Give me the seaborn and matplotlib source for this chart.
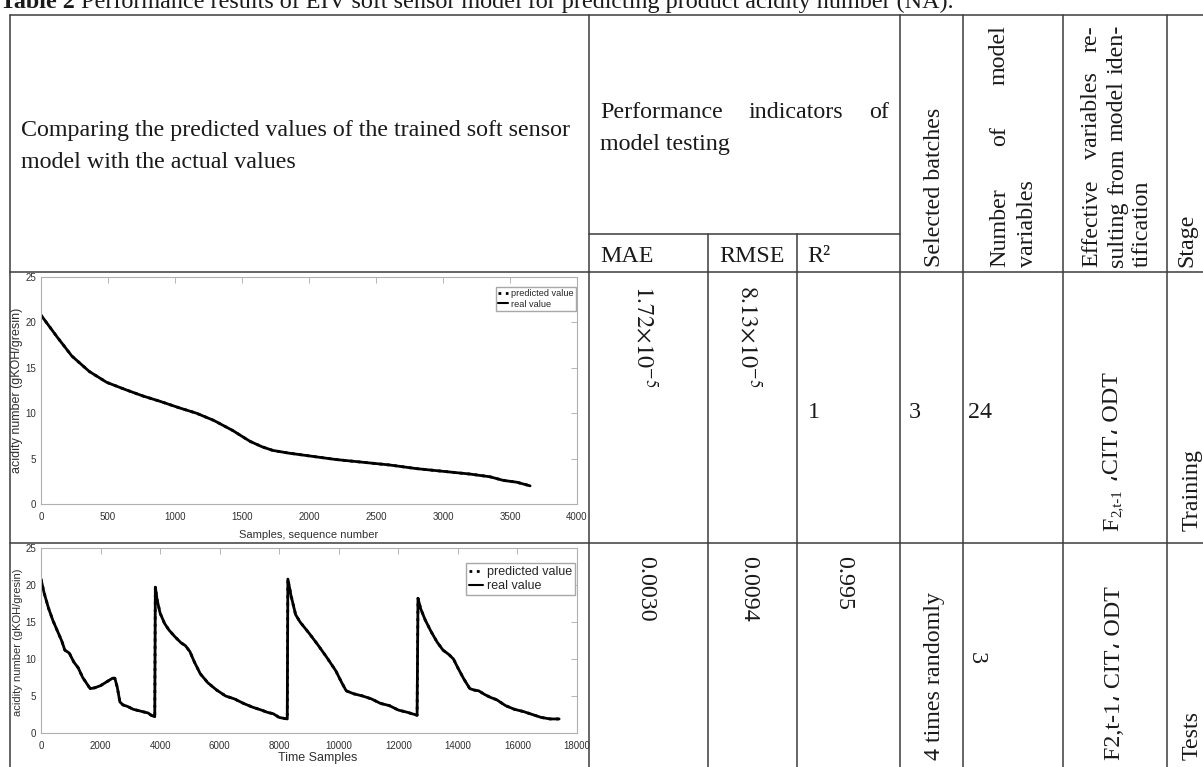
import matplotlib
matplotlib.use("Agg")
import matplotlib.pyplot as plt
from matplotlib.lines import Line2D
import seaborn as sns
import pandas as pd

W, H = 1203, 767

# ---------------- data ----------------
title_bold = "Table 2"
title_rest = " Performance results of EIV soft sensor model for predicting product acidity number (NA)."

train_samples = [0, 120, 230, 360, 490, 630, 760, 890, 1030, 1160, 1290, 1430, 1560,
                 1650, 1730, 1850, 2000, 2200, 2400, 2600, 2800, 3000, 3200, 3350,
                 3450, 3550, 3650]
train_real = [20.8, 18.4, 16.3, 14.6, 13.4, 12.6, 11.9, 11.3, 10.6, 10.0, 9.2, 8.1, 6.9,
              6.3, 5.9, 5.6, 5.3, 4.9, 4.6, 4.3, 3.9, 3.6, 3.3, 3.0, 2.6, 2.4, 2.0]
train_pred = [20.8, 18.4, 16.3, 14.6, 13.4, 12.6, 11.9, 11.3, 10.6, 10.0, 9.2, 8.1, 6.9,
              6.3, 5.9, 5.6, 5.3, 4.9, 4.6, 4.3, 3.9, 3.6, 3.3, 3.0, 2.6, 2.4, 2.0]

test_samples = [0, 100, 250, 400, 550, 700, 800, 950, 1100, 1250, 1400, 1550, 1650, 1800,
                2000, 2200, 2400, 2480, 2560, 2650, 2750, 2900, 3100, 3300, 3500, 3600,
                3700, 3820, 3840, 3900, 4000, 4150, 4300, 4500, 4700, 4850, 5000, 5150,
                5350, 5600, 5900, 6200, 6500, 6800, 7100, 7400, 7600, 7800, 8000, 8270,
                8290, 8400, 8550, 8700, 9000, 9300, 9600, 9900, 10100, 10250, 10500,
                10800, 11100, 11400, 11700, 12000, 12300, 12630, 12660, 12750, 12900,
                13100, 13300, 13500, 13700, 13850, 14000, 14200, 14400, 14550, 14700,
                14900, 15100, 15300, 15600, 15900, 16200, 16500, 16800, 17100, 17400]
test_real = [20.8, 19.0, 16.9, 15.2, 13.8, 12.4, 11.2, 10.8, 9.6, 8.8, 7.5, 6.6, 6.0, 6.1,
             6.4, 6.9, 7.4, 7.4, 6.2, 4.2, 3.8, 3.6, 3.2, 3.0, 2.8, 2.7,
             2.4, 2.2, 19.7, 18.0, 16.2, 14.8, 13.9, 13.0, 12.2, 11.8, 11.0, 9.6,
             8.0, 6.8, 5.8, 5.0, 4.6, 4.0, 3.5, 3.1, 2.8, 2.6, 2.1, 1.9,
             20.8, 18.5, 16.0, 15.0, 13.5, 11.9, 10.2, 8.4, 6.8, 5.7, 5.3,
             5.0, 4.6, 4.0, 3.7, 3.1, 2.8, 2.4, 18.2, 16.8, 15.3,
             13.7, 12.3, 11.2, 10.6, 10.0, 8.8, 7.3, 6.0, 5.8, 5.7,
             5.2, 4.8, 4.5, 3.7, 3.2, 2.9, 2.5, 2.1, 1.9, 1.9]
test_pred = list(test_real)

yticks = [0, 5, 10, 15, 20, 25]
train_xticks = [0, 500, 1000, 1500, 2000, 2500, 3000, 3500, 4000]
test_xticks = [0, 2000, 4000, 6000, 8000, 10000, 12000, 14000, 16000, 18000]

train_metrics = [r"$1.72{\times}10^{-5}$", r"$8.13{\times}10^{-5}$", "1"]
test_metrics = ["0.0030", "0.0094", "0.995"]

# ---------------- setup ----------------
sns.set_theme(style="white")
plt.rcParams['font.family'] = ['Liberation Sans', 'DejaVu Sans']
plt.rcParams['mathtext.fontset'] = 'stix'
SERIF = ['Liberation Serif', 'DejaVu Sans']
SANS = ['Liberation Sans', 'DejaVu Sans']

fig = plt.figure(figsize=(W / 100, H / 100), dpi=100)
fig.patch.set_facecolor('white')
R = fig.canvas.get_renderer()


def P(x, y):
    return (x / W, 1 - y / H)


def measure(s, fs, family=SERIF, weight='normal'):
    t = fig.text(0, 0, s, fontsize=fs, family=family, weight=weight)
    w = t.get_window_extent(R).width
    t.remove()
    return w


# base table font size: "model with the actual values" spans ~275 px
FS = 10 * 275 / measure("model with the actual values", 10)
EM = FS * 100 / 72

LC = '#3c3c3c'
LW = 1.1


def hline(y, x0, x1):
    fig.add_artist(Line2D([x0 / W, x1 / W], [1 - y / H, 1 - y / H], color=LC, lw=LW))


def vline(x, y0, y1):
    fig.add_artist(Line2D([x / W, x / W], [1 - y0 / H, 1 - y1 / H], color=LC, lw=LW))


def put(x, yb, s, fs=None, ha='left', **kw):
    fig.text(*P(x, yb), s, fontsize=fs or FS, family=SERIF, ha=ha, va='baseline',
             color='#1a1a1a', **kw)


def put_up(xc, yb, s, fs=None):
    f = fs or FS
    xb = xc + 0.33 * f * 100 / 72
    t = fig.text(*P(xb, yb), s, fontsize=f, family=SERIF, rotation=90,
                 rotation_mode='anchor', ha='left', va='baseline', color='#1a1a1a')
    return t.get_window_extent(R).height


def put_down(xc, yt, s, fs=None):
    f = fs or FS
    xb = xc - 0.33 * f * 100 / 72
    fig.text(*P(xb, yt), s, fontsize=f, family=SERIF, rotation=-90,
             rotation_mode='anchor', ha='left', va='baseline', color='#1a1a1a')


def justify_h(words, x0, x1, yb):
    ws = [measure(w, FS) for w in words]
    gap = (x1 - x0 - sum(ws)) / (len(words) - 1)
    x = x0
    for w, wd in zip(words, ws):
        put(x, yb, w)
        x += wd + gap


def justify_up(words, xc, ybot, ytop):
    ws = [measure(w, FS) for w in words]
    gap = (ybot - ytop - sum(ws)) / (len(words) - 1)
    y = ybot
    for w, wd in zip(words, ws):
        put_up(xc, y, w)
        y -= wd + gap


# ---------------- title ----------------
tfs = 10 * 952 / (measure(title_bold, 10, weight='bold') + measure(title_rest, 10))
fig.text(*P(0, 8), title_bold, fontsize=tfs, family=SERIF, weight='bold', va='baseline',
         color='#1a1a1a')
put(measure(title_bold, tfs, weight='bold'), 8, title_rest, fs=tfs)

# ---------------- grid lines ----------------
cols = [589, 708, 797, 900, 963, 1063, 1167]
TOP, SUB, HB, RL, BOT = 15, 234, 272, 543, 767
hline(TOP, 10, W)
vline(10, TOP, BOT)
for c in cols:
    vline(c, SUB if c in (708, 797) else TOP, BOT)
hline(SUB, 589, 900)
hline(HB, 10, W)
hline(RL, 10, W)

# ---------------- header texts ----------------
put(21, 136, "Comparing the predicted values of the trained soft sensor")
put(21, 168, "model with the actual values")
justify_h(["Performance", "indicators", "of"], 600, 889, 118)
put(600, 150, "model testing")
put(600, 262, "MAE")
put(719, 262, "RMSE")
put(807, 262, "R²")
put_up(932, 267, "Selected batches")
justify_up(["Number", "of", "model"], 997, 267, 25)
put_up(1025, 267, "variables")
justify_up(["Effective", "variables", "re-"], 1089, 267, 25)
justify_up(["sulting", "from", "model", "iden-"], 1115, 267, 25)
put_up(1140, 267, "tification")
put_up(1184, 267, "Stage")

# ---------------- row 1 texts ----------------
put_down(645, 285, train_metrics[0])
put_down(749, 285, train_metrics[1])
put(808, 418, train_metrics[2])
put(909, 418, "3")
put(968, 418, "24")
h1 = put_up(1110, 531, "F")
h2 = put_up(1110 + 0.22 * EM, 531 - h1 - 1, "2,t-1", fs=FS * 0.62)
put_up(1110, 531 - h1 - h2 - 2, " \u060cCIT\u060c ODT")
put_up(1190, 531, "Training")

# ---------------- row 2 texts ----------------
put_down(648, 556, test_metrics[0])
put_down(751, 556, test_metrics[1])
put_down(846, 556, test_metrics[2])
put_up(932, 760, "4 times randomly")
put_down(979, 652, "3")
put_up(1112, 760, "F2,t-1\u060c CIT\u060c ODT")
put_up(1190, 760, "Tests")


# ---------------- charts ----------------
def chart(left, top, right, bottom, xs, real, pred, xticks, xlabel, xl_pos, xl_fs,
          yl_pos, yl_fs, leg_fs, leg_pt):
    ax = fig.add_axes([left / W, 1 - bottom / H, (right - left) / W, (bottom - top) / H])
    df = pd.DataFrame({'x': xs, 'real': real, 'pred': pred})
    sns.lineplot(data=df, x='x', y='real', ax=ax, color='black', lw=2.0, sort=False,
                 estimator=None, legend=False)
    sns.lineplot(data=df, x='x', y='pred', ax=ax, color='black', lw=2.0, ls=':',
                 sort=False, estimator=None, legend=False)
    ax.set_xlim(xticks[0], xticks[-1])
    ax.set_ylim(0, 25)
    ax.set_xticks(xticks)
    ax.set_yticks(yticks)
    ax.set_xlabel('')
    ax.set_ylabel('')
    ax.tick_params(direction='in', length=4, width=0.6, color='#a8a8a8', labelsize=7,
                   labelcolor='#303030', top=True, right=True)
    ax.tick_params(axis='x', pad=6)
    ax.tick_params(axis='y', pad=3.5)
    for sp in ax.spines.values():
        sp.set_color('#b0b0b0')
        sp.set_linewidth(0.8)
    for lab in ax.get_xticklabels() + ax.get_yticklabels():
        lab.set_family(SANS)
    fig.text(*P(*xl_pos), xlabel, fontsize=xl_fs, family=SANS, ha='center', va='center',
             color='#303030')
    fig.text(*P(*yl_pos), "acidity number (gKOH/gresin)", fontsize=yl_fs, family=SANS,
             rotation=90, ha='center', va='center', color='#303030')
    handles = [Line2D([], [], color='black', lw=2, ls=':'),
               Line2D([], [], color='black', lw=1.5)]
    ax.legend(handles, ["predicted value", "real value"], loc='upper right',
              bbox_to_anchor=P(*leg_pt), bbox_transform=fig.transFigure,
              borderaxespad=0, frameon=True, fancybox=False, edgecolor='#a8a8a8',
              framealpha=1, handlelength=1.1, handletextpad=0.3, borderpad=0.25,
              labelspacing=0.15, prop={'family': SANS, 'size': leg_fs})
    return ax


chart(41, 277, 577, 504, train_samples, train_real, train_pred, train_xticks,
      "Samples, sequence number", (309, 535), 8, (17, 390), 9, 6.6, (576, 287))
chart(41, 548, 577, 733, test_samples, test_real, test_pred, test_xticks,
      "Time Samples", (318, 758), 9, (18, 642), 8, 9.0, (575, 563))

fig.savefig("out.png", dpi=100, facecolor='white')
